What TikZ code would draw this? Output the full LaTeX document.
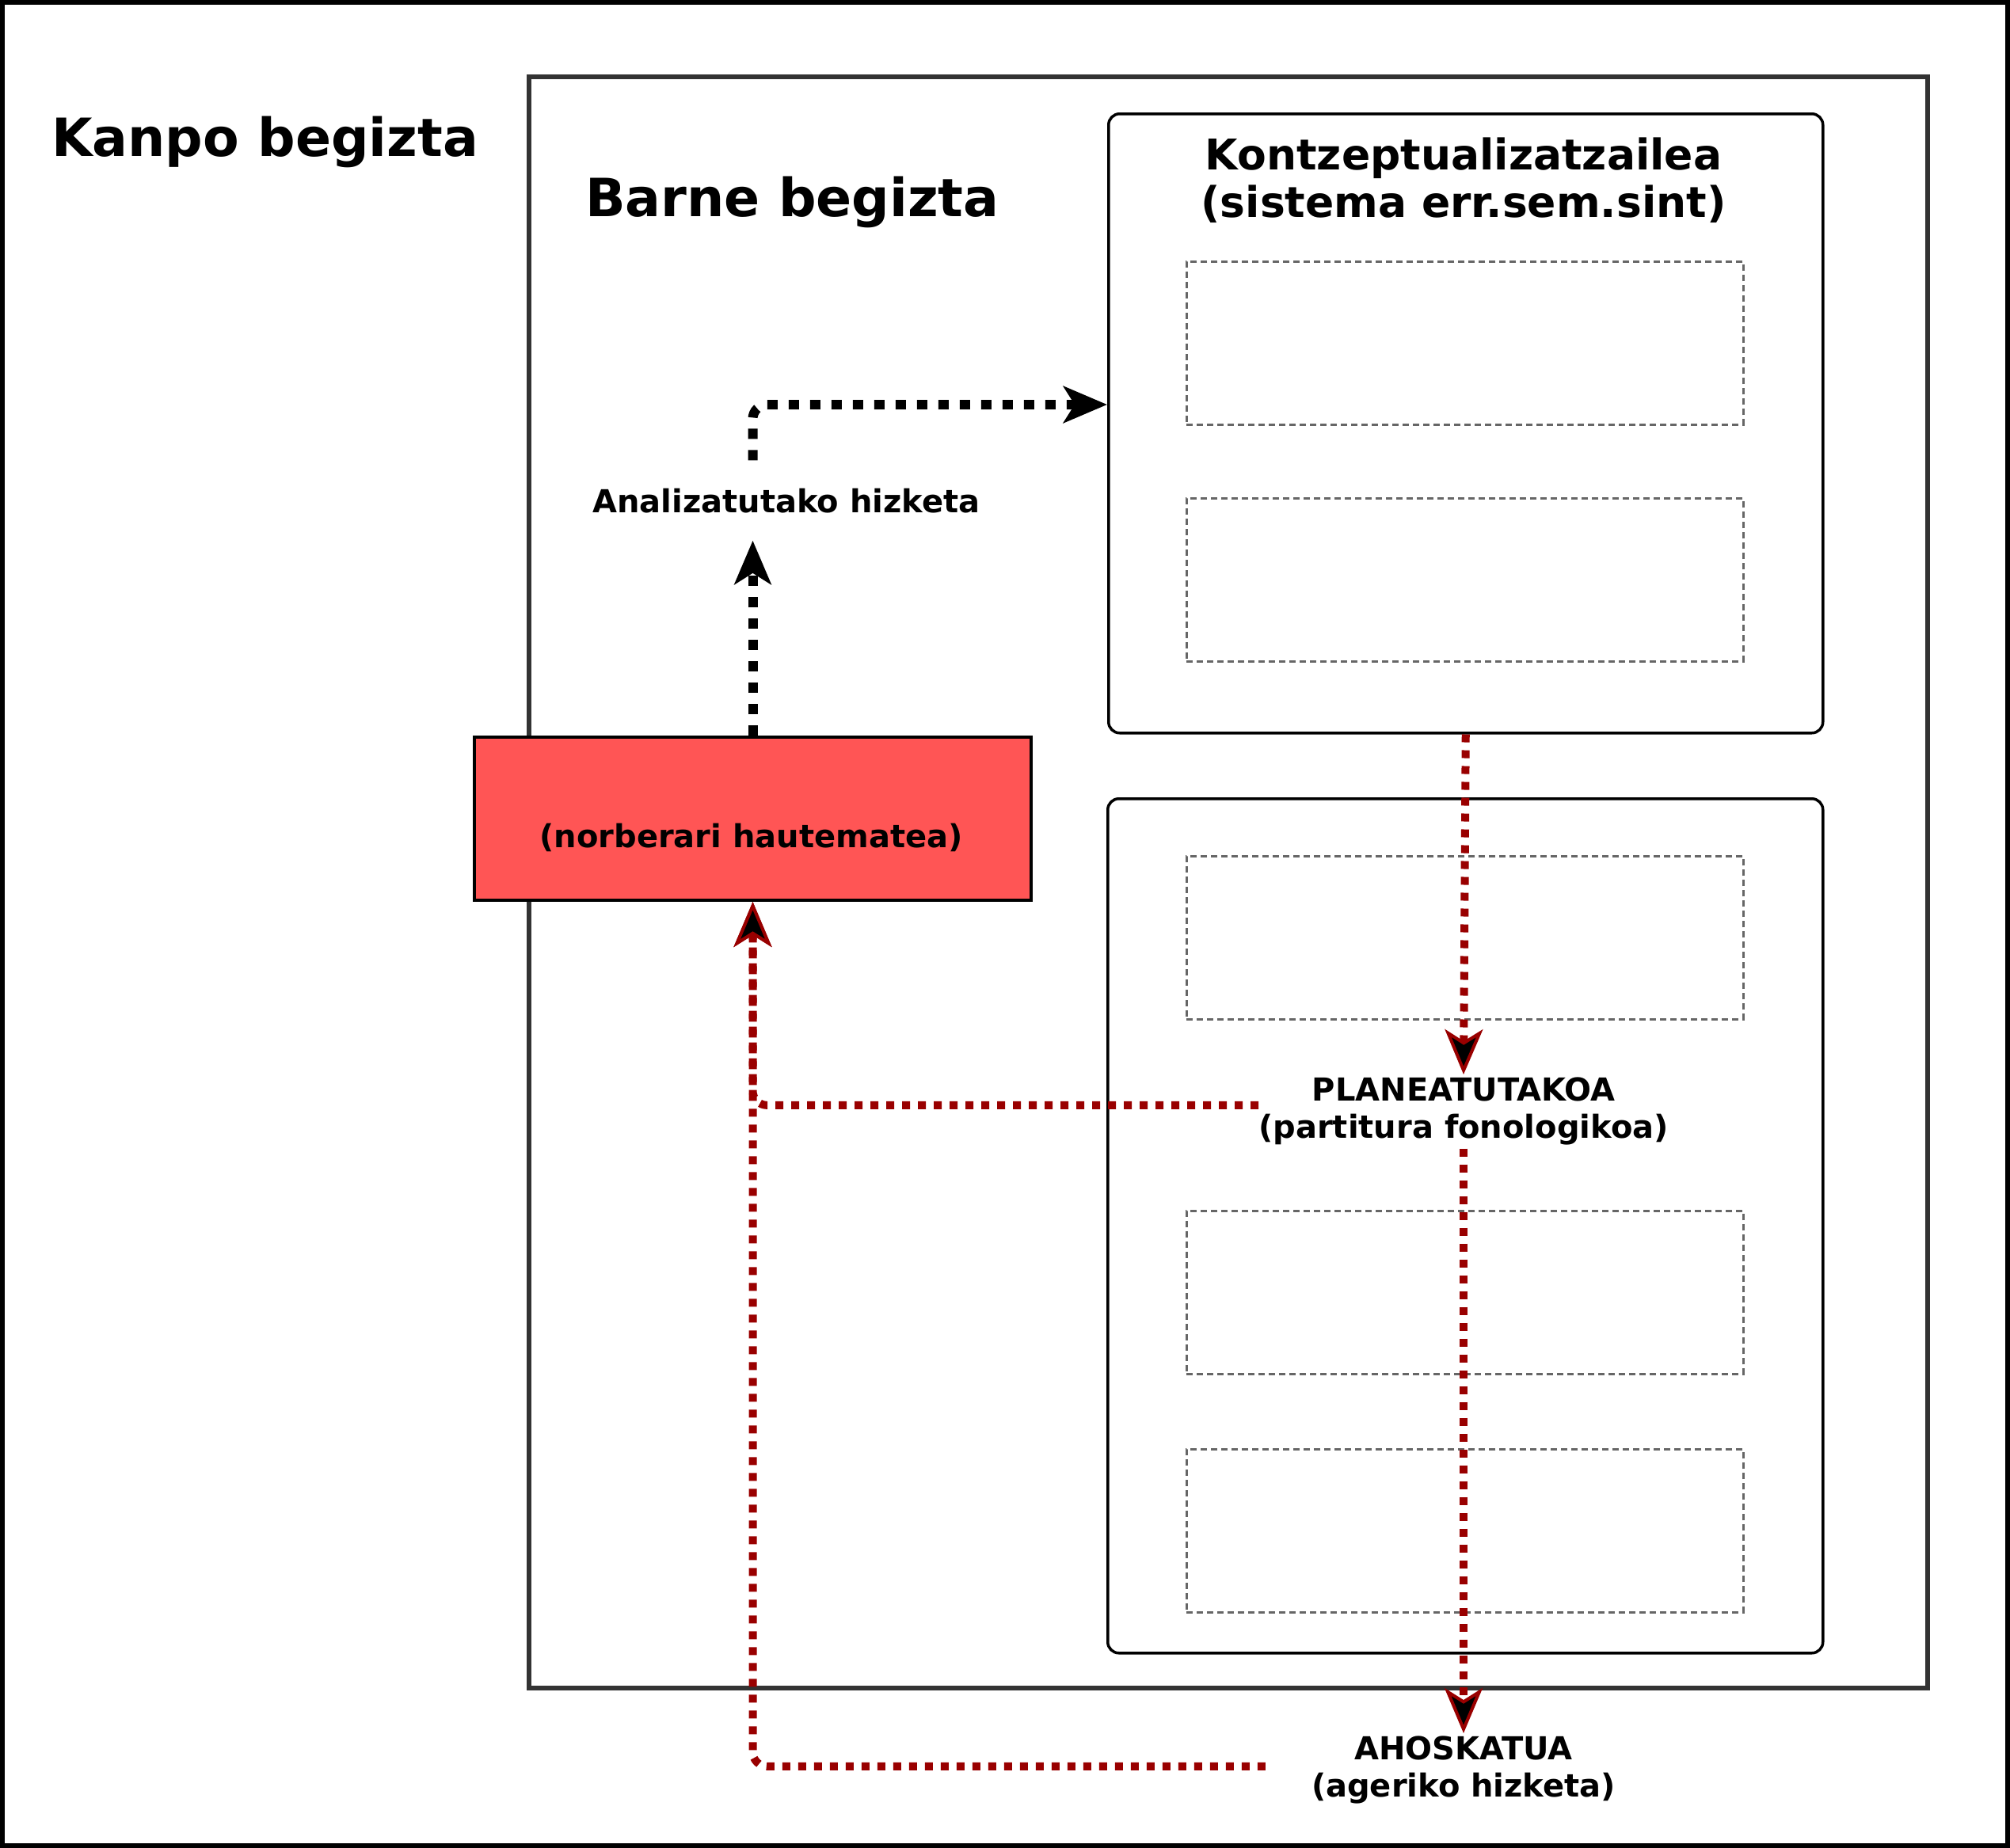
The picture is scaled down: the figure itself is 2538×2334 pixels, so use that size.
\documentclass[tikz,border=0pt]{standalone}
\usepackage{fontspec}
\setmainfont{DejaVu Sans}
\usetikzlibrary{arrows.meta,calc}
\definecolor{dred}{HTML}{990000}
\definecolor{boxred}{HTML}{FF5555}
\definecolor{frame}{HTML}{333333}
\definecolor{dgray}{HTML}{666666}
\tikzset{
  outerframe/.style={draw=black,line width=6pt},
  innerframe/.style={draw=frame,line width=6pt},
  roundbox/.style={draw=black,line width=3.5pt,rounded corners=14pt,inner sep=0pt,anchor=north west},
  dbox/.style={draw=dgray,line width=2.5pt,dash pattern=on 8pt off 5pt,inner sep=0pt,anchor=north west,minimum width=703pt,minimum height=206pt},
  bigtitle/.style={font=\fontsize{66.5}{76}\selectfont\bfseries,inner sep=0pt,anchor=base west},
  midtitle/.style={font=\fontsize{53.5}{60}\selectfont\bfseries,inner sep=0pt,align=center,anchor=north},
  lbl/.style={font=\fontsize{40}{47}\selectfont\bfseries,align=center},
  blackdot/.style={draw=black,line width=12pt,dash pattern=on 13pt off 14pt,rounded corners=18pt,-{Stealth[length=55pt,width=46pt,inset=14pt]}},
  reddot/.style={draw=dred,line width=10pt,dash pattern=on 10pt off 10pt,rounded corners=18pt,-{Stealth[length=57pt,width=48pt,inset=15pt,fill=black,line width=4pt]}},
}
\begin{document}
\begin{tikzpicture}[x=1pt,y=-1pt]
\useasboundingbox (0,0) rectangle (2538,2334);
\draw[outerframe] (3,3) rectangle (2535,2331);
\draw[innerframe] (668,97) rectangle (2434,2132);

\node[bigtitle] (kanpo) at (65,197) {Kanpo begizta};
\node[bigtitle] (barne) at (739,273) {Barne begizta};

% Conceptualizer box
\node[roundbox,minimum width=902pt,minimum height=782pt] (kontz) at (1398,142) {};
\node[midtitle] (kontzt) at (1848,174) {Kontzeptualizatzailea\\(sistema err.sem.sint)};
\node[dbox] (d1) at (1497,329) {};
\node[dbox] (d2) at (1497,628) {};

% Formulator box
\node[roundbox,minimum width=903pt,minimum height=1079pt] (form) at (1397,1007) {};
\node[dbox] (d3) at (1497,1080) {};
\node[dbox] (d4) at (1497,1528) {};
\node[dbox] (d5) at (1497,1829) {};

% Perception box
\node[draw=black,line width=4pt,fill=boxred,inner sep=0pt,anchor=north west,minimum width=703pt,minimum height=206pt] (percep) at (597,929) {};
\node[lbl,inner sep=0pt,anchor=base] (percept) at (948.5,1070) {(norberari hautematea)};

% labels
\node[lbl,inner xsep=0pt,inner ysep=35pt,anchor=base] (analiz) at (993,647) {Analizatutako hizketa};
\node[lbl,inner xsep=0pt,inner ysep=4pt,minimum width=500pt,anchor=north] (plane) at (1848,1357) {PLANEATUTAKOA\\(partitura fonologikoa)};
\node[lbl,inner xsep=0pt,inner ysep=4pt,minimum width=500pt,anchor=north] (ahos) at (1848,2189) {AHOSKATUA\\(ageriko hizketa)};

\coordinate (kin) at ($(kontz.north west)+(0,369)$);
\coordinate (planeout) at ($(plane.west)+(0,-8)$);
\coordinate (ahosout) at ($(ahos.west)+(0,-5)$);

% connectors
\draw[blackdot] (percep.north) -- (percep.north |- analiz.south);
\draw[blackdot] (analiz.north -| percep.north) |- (kin);
\draw[reddot] (kontz.south) -- (plane.north);
\draw[reddot] (plane.south) -- (ahos.north);
\draw[reddot] (planeout) -| (percep.south);
\draw[reddot] (ahosout) -| (percep.south);
\end{tikzpicture}
\end{document}
